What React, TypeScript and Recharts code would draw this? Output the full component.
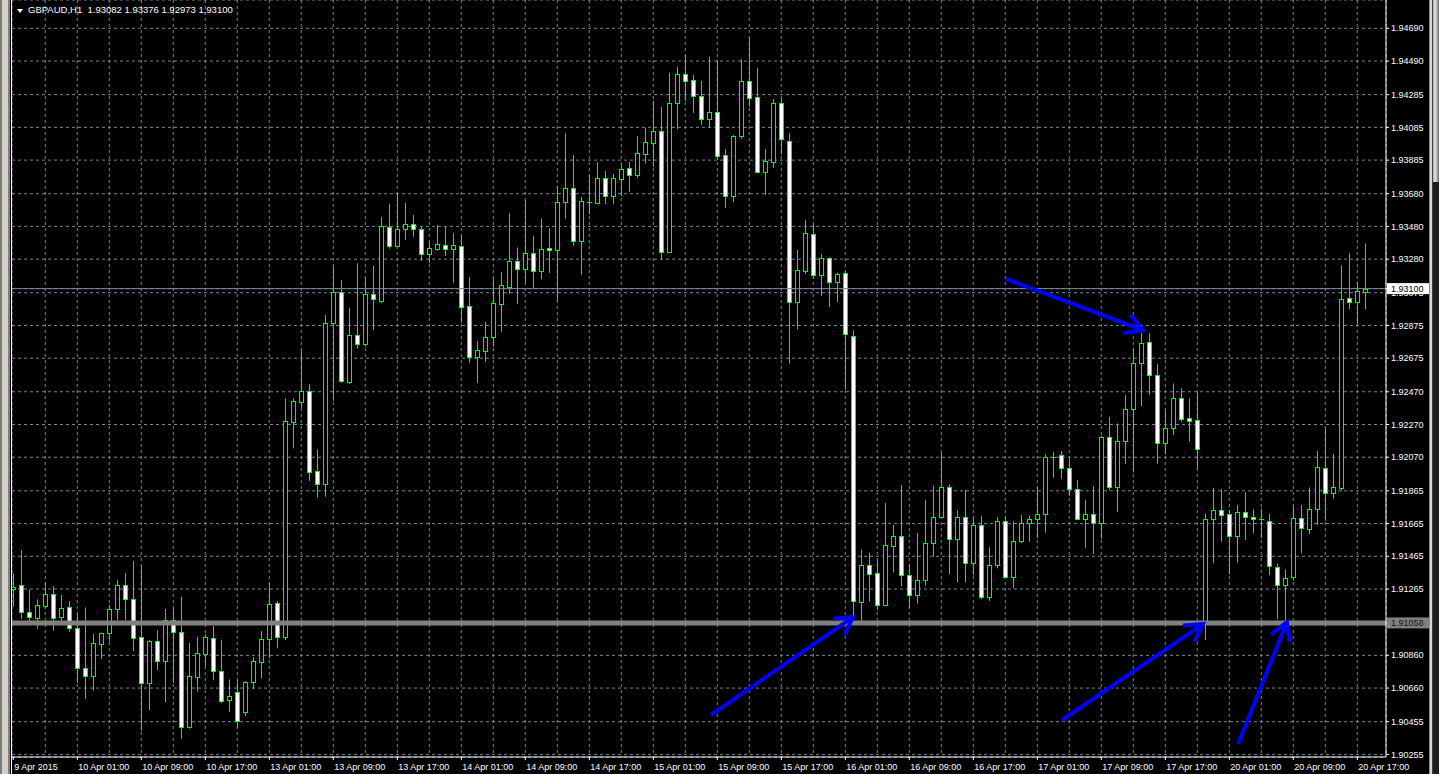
import { ComposedChart, Bar, XAxis, YAxis, CartesianGrid, ReferenceLine } from 'recharts';

const FONT = '"Liberation Sans", Arial, sans-serif';
const LIME = '#00ff00';
const GRID = '#778899';
const SYMBOL = 'GBPAUD,H1';

// H1 bars, 9 Apr 17:00 -> 20 Apr 18:00 (weekend hours are not in the feed)
const opens = [
  1.91263, 1.91288, 1.91123, 1.9109, 1.91163, 1.91233, 1.91096, 1.91153, 1.91025, 1.90781,
  1.90735, 1.90931, 1.90998, 1.91141, 1.91288, 1.91202, 1.90974, 1.90689, 1.90945, 1.90827,
  1.91074, 1.91, 1.9042, 1.90729, 1.9087, 1.90964, 1.90766, 1.90589, 1.90638, 1.90514,
  1.90699, 1.9082, 1.90958, 1.91178, 1.9097, 1.92287, 1.92409, 1.92473, 1.91984, 1.91908,
  1.92888, 1.93077, 1.92531, 1.92815, 1.92763, 1.93065, 1.93026, 1.93474, 1.93362, 1.93462,
  1.93493, 1.93462, 1.9331, 1.93344, 1.93368, 1.93344, 1.93358, 1.92992, 1.92684, 1.92721,
  1.92802, 1.93008, 1.93112, 1.93267, 1.93218, 1.93316, 1.93206, 1.93346, 1.93334, 1.93627,
  1.93713, 1.93389, 1.93631, 1.93625, 1.93774, 1.93667, 1.93771, 1.93835, 1.93796, 1.93924,
  1.93991, 1.94061, 1.93325, 1.94232, 1.94409, 1.94372, 1.94275, 1.94138, 1.94177, 1.93914,
  1.93667, 1.9403, 1.94366, 1.94269, 1.93814, 1.93875, 1.94233, 1.94004, 1.93018, 1.93206,
  1.93434, 1.93183, 1.93286, 1.9314, 1.93193, 1.92813, 1.91188, 1.9141, 1.91362, 1.9117,
  1.91525, 1.91589, 1.91349, 1.91231, 1.91319, 1.91546, 1.91708, 1.91886, 1.91569, 1.91708,
  1.91422, 1.91654, 1.91214, 1.9141, 1.91679, 1.9134, 1.91556, 1.91666, 1.91691, 1.91721,
  1.92071, 1.92082, 1.92002, 1.91874, 1.91694, 1.91721, 1.91666, 1.92192, 1.91886, 1.92171,
  1.92363, 1.92647, 1.92772, 1.9257, 1.92159, 1.92247, 1.9243, 1.92308, 1.92296, 1.91065,
  1.91694, 1.91746, 1.91721, 1.91589, 1.91733, 1.91703, 1.91691, 1.91682, 1.91401, 1.91288,
  1.91336, 1.91697, 1.9163, 1.91752, 1.92002, 1.91853, 1.9188, 1.93041, 1.9302, 1.93082,
];
const highs = [
  1.91361, 1.91503, 1.91263, 1.91202, 1.91308, 1.91283, 1.91228, 1.91191, 1.91116, 1.91153,
  1.9099, 1.91, 1.91167, 1.9132, 1.91363, 1.91436, 1.91405, 1.90953, 1.91014, 1.91143,
  1.91147, 1.91218, 1.90937, 1.90974, 1.9099, 1.91039, 1.90953, 1.90713, 1.90709, 1.90703,
  1.9085, 1.91008, 1.913, 1.91191, 1.9243, 1.9243, 1.92721, 1.92517, 1.92118, 1.92939,
  1.93234, 1.93153, 1.92981, 1.93254, 1.93165, 1.93238, 1.93537, 1.93617, 1.93682, 1.93623,
  1.9355, 1.93478, 1.93386, 1.93488, 1.93478, 1.93438, 1.93426, 1.93171, 1.9278, 1.92896,
  1.9316, 1.93201, 1.9356, 1.93352, 1.93641, 1.93421, 1.93529, 1.93468, 1.93727, 1.94049,
  1.93916, 1.9366, 1.93792, 1.93873, 1.93818, 1.938, 1.93861, 1.93875, 1.94032, 1.94083,
  1.94248, 1.94209, 1.94419, 1.94456, 1.94527, 1.94405, 1.94368, 1.94517, 1.94496, 1.93953,
  1.94038, 1.94502, 1.94629, 1.94449, 1.93953, 1.94258, 1.94262, 1.9405, 1.93336, 1.93519,
  1.93492, 1.9331, 1.93291, 1.93197, 1.93206, 1.92846, 1.91504, 1.91487, 1.91443, 1.91791,
  1.91656, 1.919, 1.91418, 1.91607, 1.91809, 1.91896, 1.92097, 1.91904, 1.91747, 1.9187,
  1.91694, 1.91709, 1.9152, 1.91705, 1.91711, 1.91679, 1.91717, 1.91715, 1.91886, 1.92088,
  1.92102, 1.92108, 1.92063, 1.91931, 1.91809, 1.91894, 1.922, 1.92317, 1.92277, 1.9245,
  1.92731, 1.92831, 1.92827, 1.92638, 1.92358, 1.92521, 1.92491, 1.9243, 1.92465, 1.91727,
  1.91884, 1.91874, 1.91747, 1.91778, 1.91857, 1.91752, 1.91758, 1.91723, 1.91422, 1.91385,
  1.91772, 1.91778, 1.91886, 1.92108, 1.92244, 1.9209, 1.93242, 1.93316, 1.93142, 1.93376,
];
const lows = [
  1.91157, 1.91082, 1.91065, 1.91022, 1.91147, 1.9101, 1.91071, 1.91004, 1.90693, 1.90593,
  1.90644, 1.90837, 1.90943, 1.91076, 1.91076, 1.90886, 1.90399, 1.90526, 1.9077, 1.90575,
  1.90693, 1.9035, 1.90412, 1.90638, 1.90795, 1.90709, 1.90568, 1.90514, 1.90416, 1.90489,
  1.90655, 1.90719, 1.90842, 1.90903, 1.90953, 1.92124, 1.92372, 1.91926, 1.91823, 1.91829,
  1.92415, 1.92525, 1.92517, 1.92733, 1.92745, 1.92847, 1.93012, 1.93344, 1.93354, 1.93397,
  1.93417, 1.9327, 1.93258, 1.93332, 1.93299, 1.93136, 1.92892, 1.92647, 1.92525, 1.92653,
  1.92745, 1.92837, 1.93069, 1.93008, 1.93136, 1.93102, 1.93157, 1.93197, 1.93026, 1.93527,
  1.93362, 1.93185, 1.93554, 1.93615, 1.93619, 1.93619, 1.93666, 1.93689, 1.93777, 1.93863,
  1.93845, 1.93275, 1.93318, 1.94075, 1.94246, 1.94174, 1.94099, 1.94083, 1.93886, 1.93594,
  1.93629, 1.94016, 1.94211, 1.93804, 1.93673, 1.93838, 1.93919, 1.92643, 1.9285, 1.9319,
  1.93162, 1.93053, 1.92988, 1.93018, 1.92485, 1.911, 1.9107, 1.91188, 1.91137, 1.91161,
  1.91366, 1.9128, 1.91149, 1.91177, 1.91286, 1.91464, 1.91699, 1.91356, 1.91308, 1.91305,
  1.9135, 1.91203, 1.91193, 1.91391, 1.91332, 1.91269, 1.91546, 1.91554, 1.91575, 1.91609,
  1.91945, 1.91939, 1.91833, 1.91691, 1.91517, 1.91479, 1.91572, 1.9187, 1.91737, 1.92028,
  1.91978, 1.92383, 1.92452, 1.9203, 1.92088, 1.92206, 1.92287, 1.92165, 1.92001, 1.90953,
  1.91422, 1.91554, 1.91355, 1.91426, 1.91565, 1.91605, 1.91575, 1.9135, 1.9108, 1.91057,
  1.91316, 1.91483, 1.91601, 1.91656, 1.91682, 1.91817, 1.91865, 1.92975, 1.92884, 1.92973,
];
const closes = [
  1.91279, 1.91123, 1.91092, 1.91165, 1.91233, 1.9109, 1.91147, 1.91025, 1.90781, 1.90735,
  1.90933, 1.90994, 1.91141, 1.91288, 1.91202, 1.90967, 1.90689, 1.90945, 1.90823, 1.91074,
  1.91, 1.9042, 1.90732, 1.90872, 1.9097, 1.90766, 1.90583, 1.9061, 1.90459, 1.90695,
  1.90823, 1.90958, 1.91171, 1.9097, 1.92289, 1.92412, 1.92473, 1.91981, 1.91908, 1.92888,
  1.93077, 1.92537, 1.92815, 1.92763, 1.93065, 1.93035, 1.93481, 1.93362, 1.93462, 1.93493,
  1.93462, 1.9331, 1.93346, 1.93371, 1.93344, 1.93364, 1.92989, 1.92684, 1.92725, 1.92802,
  1.9301, 1.9312, 1.93267, 1.93218, 1.93316, 1.93206, 1.9334, 1.93334, 1.93627, 1.93713,
  1.93389, 1.93635, 1.93631, 1.93774, 1.93667, 1.93774, 1.93829, 1.93796, 1.93926, 1.93994,
  1.94061, 1.93322, 1.94232, 1.94409, 1.9437, 1.94278, 1.94138, 1.94177, 1.93912, 1.93667,
  1.9403, 1.94366, 1.94262, 1.93814, 1.93879, 1.94232, 1.94013, 1.93018, 1.93212, 1.9344,
  1.93183, 1.93286, 1.9314, 1.93188, 1.92822, 1.91192, 1.9141, 1.91356, 1.9117, 1.91534,
  1.91589, 1.91349, 1.91231, 1.91319, 1.91546, 1.91708, 1.91886, 1.91569, 1.91708, 1.91422,
  1.91654, 1.91214, 1.9141, 1.91679, 1.91336, 1.91556, 1.91666, 1.91691, 1.91721, 1.92069,
  1.92073, 1.92002, 1.91874, 1.91694, 1.91721, 1.91666, 1.92192, 1.91886, 1.92167, 1.92363,
  1.92644, 1.92766, 1.9257, 1.92159, 1.92247, 1.9243, 1.92305, 1.92289, 1.92118, 1.91691,
  1.91747, 1.91719, 1.91589, 1.91733, 1.91703, 1.91691, 1.91691, 1.91405, 1.91288, 1.91334,
  1.91697, 1.91636, 1.91752, 1.92008, 1.9185, 1.91886, 1.93035, 1.9302, 1.93083, 1.931,
];

// one time label every 8 bars, first one is the date of the left edge
const timeLabels = [
  '9 Apr 2015', '10 Apr 01:00', '10 Apr 09:00', '10 Apr 17:00', '13 Apr 01:00', '13 Apr 09:00',
  '13 Apr 17:00', '14 Apr 01:00', '14 Apr 09:00', '14 Apr 17:00', '15 Apr 01:00', '15 Apr 09:00',
  '15 Apr 17:00', '16 Apr 01:00', '16 Apr 09:00', '16 Apr 17:00', '17 Apr 01:00', '17 Apr 09:00',
  '17 Apr 17:00', '20 Apr 01:00', '20 Apr 09:00', '20 Apr 17:00',
];

const priceLabels = [
  '1.94690', '1.94490', '1.94285', '1.94085', '1.93885', '1.93680', '1.93480', '1.93280',
  '1.93075', '1.92875', '1.92675', '1.92470', '1.92270', '1.92070', '1.91865', '1.91665',
  '1.91465', '1.91265', '1.91060', '1.90860', '1.90660', '1.90455', '1.90255',
];

const BID = 1.931;
const SUPPORT = 1.91058;

// hand drawn arrows: [bar index, price] for tail and tip
const arrows = [
  { from: [124.1, 1.93159], to: [141.2, 1.92847] },
  { from: [87.2, 1.90495], to: [104.96, 1.91094] },
  { from: [131.1, 1.90465], to: [148.7, 1.91051] },
  { from: [153.1, 1.90318], to: [159.2, 1.91063] },
];

const X_DOMAIN = [-0.16, 171.59];
const Y_DOMAIN = [1.90239, 1.94863];

const rows = opens.map((o, i) => ({
  i,
  open: o,
  high: highs[i],
  low: lows[i],
  close: closes[i],
  range: [lows[i], highs[i]],
}));

const timeTicks = timeLabels.map((_, k) => k * 8);
const gridCols = Array.from({ length: 42 }, (_, k) => (k + 1) * 4);
// the bid and the support level get their own tags, drawn last so they sit on top
const priceTicks = [...priceLabels.map(Number), BID, SUPPORT];

const near = (a: number, b: number) => Math.abs(a - b) < 1e-7;

const Candle = (props: any) => {
  const { x, y, width, height } = props;
  const d = props.payload ?? props;
  if (x == null || y == null) return null;
  const top = Math.min(y, y + height);
  const h = Math.abs(height);
  const span = d.high - d.low || 1;
  const toY = (v: number) => top + ((d.high - v) / span) * h;
  const cx = Math.round(x + width / 2) + 0.5;
  const bTop = Math.round(toY(Math.max(d.open, d.close))) + 0.5;
  const bBot = Math.round(toY(Math.min(d.open, d.close))) + 0.5;
  const bull = d.close >= d.open;
  return (
    <g>
      <line x1={cx} x2={cx} y1={top} y2={top + h} stroke={LIME} strokeWidth={1} />
      {bBot - bTop < 1 ? (
        <line x1={cx - 2.5} x2={cx + 2.5} y1={bTop} y2={bTop} stroke={LIME} strokeWidth={1} />
      ) : (
        <rect
          x={cx - 2}
          y={bTop}
          width={4}
          height={bBot - bTop}
          fill={bull ? '#000' : '#fff'}
          stroke={LIME}
          strokeWidth={1}
        />
      )}
    </g>
  );
};

const TimeTick = ({ x, y, payload }: any) => {
  const label = timeLabels[Math.round(payload.value / 8)];
  return (
    <text x={x + 1} y={y} dy="0.71em" fill="#fff" fontSize={9} fontFamily={FONT} textAnchor="start">
      {label}
    </text>
  );
};

const PriceTick = ({ x, y, payload }: any) => {
  const v = payload.value;
  const isBid = near(v, BID);
  const isSupport = near(v, SUPPORT);
  if (isBid || isSupport) {
    return (
      <g>
        <rect x={x - 4} y={y - 5.5} width={42} height={11} fill={isBid ? '#fff' : '#808080'} />
        <text x={x} y={y} dy="0.35em" fill={isBid ? '#000' : '#111'} fontSize={9} fontFamily={FONT}>
          {v.toFixed(5)}
        </text>
      </g>
    );
  }
  return (
    <text x={x} y={y} dy="0.35em" fill="#fff" fontSize={9} fontFamily={FONT}>
      {v.toFixed(5)}
    </text>
  );
};

const Arrow = (props: any) => {
  const { x1, y1, x2, y2 } = props;
  if (x1 == null) return null;
  const a = Math.atan2(y2 - y1, x2 - x1);
  const len = 20;
  const spread = Math.PI / 6;
  const b1x = x2 - len * Math.cos(a - spread);
  const b1y = y2 - len * Math.sin(a - spread);
  const b2x = x2 - len * Math.cos(a + spread);
  const b2y = y2 - len * Math.sin(a + spread);
  return (
    <g>
      <line x1={x1} y1={y1} x2={x2} y2={y2} stroke="#0000ff" strokeWidth={4} />
      <polyline
        points={`${b1x},${b1y} ${x2},${y2} ${b2x},${b2y}`}
        fill="none"
        stroke="#0000ff"
        strokeWidth={4}
        strokeLinejoin="miter"
      />
    </g>
  );
};

export default function App() {
  const last = rows[rows.length - 1];
  const header = `${SYMBOL}  ${last.open.toFixed(5)} ${last.high.toFixed(5)} ${last.low.toFixed(5)} ${last.close.toFixed(5)}`;

  return (
    <div
      style={{
        position: 'fixed',
        left: 0,
        top: 0,
        width: 1439,
        height: 774,
        background: '#000',
        overflow: 'hidden',
        fontFamily: FONT,
      }}
    >
      {/* window frame on the left */}
      <div
        style={{
          position: 'absolute',
          left: 0,
          top: 0,
          width: 12,
          height: 774,
          background:
            'linear-gradient(to right, #7c7c7c 0 2px, #d4d0c8 2px 8px, #808080 8px 10px, #000 10px 11px, #fff 11px 12px)',
        }}
      />
      <div style={{ position: 'absolute', left: 12, top: 0 }}>
        <ComposedChart width={1418} height={774} data={rows} margin={{ top: 0, right: 0, bottom: 0, left: 0 }}>
          <CartesianGrid xAxisId="grid" stroke={GRID} strokeDasharray="3 3" />
          <XAxis
            xAxisId="grid"
            type="number"
            dataKey="i"
            domain={X_DOMAIN}
            allowDataOverflow
            ticks={gridCols}
            interval={0}
            hide
          />
          <XAxis
            type="number"
            dataKey="i"
            domain={X_DOMAIN}
            allowDataOverflow
            ticks={timeTicks}
            interval={0}
            height={17}
            tickSize={3}
            tickMargin={4}
            stroke="#fff"
            tick={<TimeTick />}
          />
          <YAxis
            type="number"
            orientation="right"
            domain={Y_DOMAIN}
            allowDataOverflow
            ticks={priceTicks}
            interval={0}
            width={44}
            tickSize={3}
            tickMargin={2}
            stroke="#fff"
            tick={<PriceTick />}
          />
          <ReferenceLine y={BID} stroke={GRID} strokeWidth={1} />
          <Bar dataKey="range" barSize={5} shape={<Candle />} isAnimationActive={false} />
          <ReferenceLine y={SUPPORT} stroke="#808080" strokeWidth={5} />
          {arrows.map((a, k) => (
            <ReferenceLine
              key={`a${k}`}
              segment={[
                { x: a.from[0], y: a.from[1] },
                { x: a.to[0], y: a.to[1] },
              ]}
              shape={<Arrow />}
            />
          ))}
        </ComposedChart>
      </div>
      {/* symbol line */}
      <div
        style={{
          position: 'absolute',
          left: 17,
          top: 9,
          width: 0,
          height: 0,
          borderLeft: '3px solid transparent',
          borderRight: '3px solid transparent',
          borderTop: '4px solid #fff',
        }}
      />
      <div
        style={{
          position: 'absolute',
          left: 28,
          top: 4,
          color: '#fff',
          fontSize: 9.5,
          whiteSpace: 'pre',
          lineHeight: '12px',
        }}
      >
        {header}
      </div>
      {/* strip on the right */}
      <div
        style={{
          position: 'absolute',
          left: 1429,
          top: 0,
          width: 10,
          height: 774,
          background:
            'linear-gradient(to right, #8c8c8c 0 1px, #d8d8d8 1px 3px, #404040 3px 4px, #1e1e1e 4px 10px)',
        }}
      />
      <div
        style={{
          position: 'absolute',
          left: 1433,
          top: 0,
          width: 6,
          height: 182,
          background: 'linear-gradient(to right, #b0b0b0, #e0e0e0 40%, #6a6a6a)',
        }}
      />
    </div>
  );
}
